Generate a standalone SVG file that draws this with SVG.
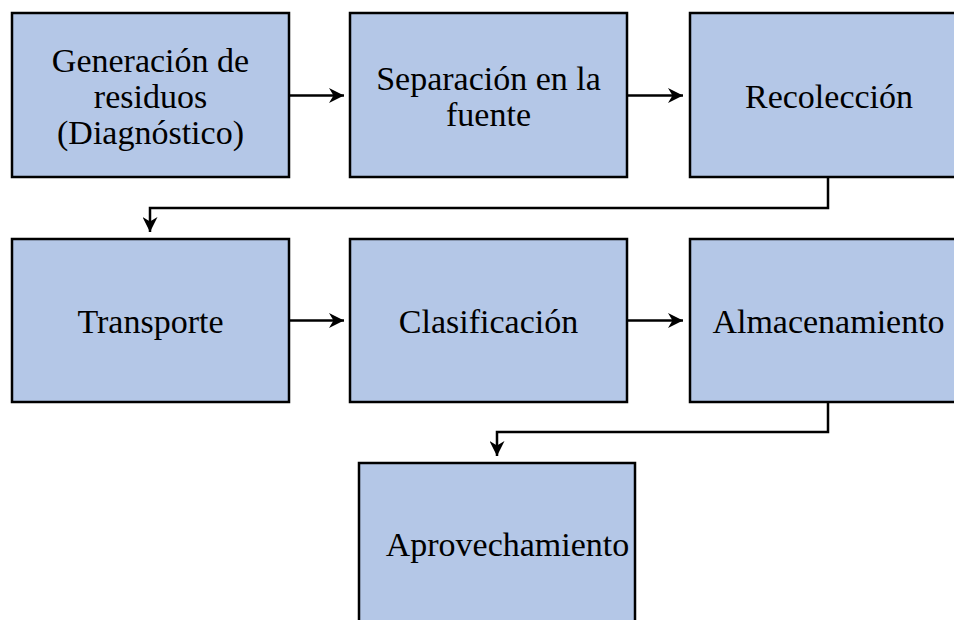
<svg xmlns="http://www.w3.org/2000/svg" width="954" height="620" viewBox="0 0 954 620">
<style>
.box{fill:#B4C7E7;stroke:#000;stroke-width:2.5}
.t{font-family:"Liberation Serif","Times New Roman",serif;font-size:34px;fill:#000;text-anchor:middle}
.c{fill:none;stroke:#000;stroke-width:2.5}
</style>
<defs>
<marker id="ah" viewBox="0 0 10 10" refX="10" refY="5" markerWidth="6" markerHeight="6" orient="auto" markerUnits="strokeWidth">
<path d="M0,0 L10,5 L0,10 L3,5 Z" fill="#000"/>
</marker>
</defs>
<rect width="954" height="620" fill="#fff"/>
<g id="n1"><rect class="box" x="12" y="13" width="277" height="164"/><text class="t" x="150.5" y="72">Generación de</text><text class="t" x="150.5" y="108">residuos</text><text class="t" x="150.5" y="144">(Diagnóstico)</text></g>
<g id="n2"><rect class="box" x="350" y="13" width="277" height="164"/><text class="t" x="488.5" y="90">Separación en la</text><text class="t" x="488.5" y="126">fuente</text></g>
<g id="n3"><rect class="box" x="690" y="13" width="277" height="164"/><text class="t" x="829" y="108">Recolección</text></g>
<g id="n4"><rect class="box" x="12" y="239" width="277" height="163"/><text class="t" x="150.5" y="333">Transporte</text></g>
<g id="n5"><rect class="box" x="350" y="239" width="277" height="163"/><text class="t" x="488.5" y="333">Clasificación</text></g>
<g id="n6"><rect class="box" x="690" y="239" width="277" height="163"/><text class="t" x="828.5" y="333">Almacenamiento</text></g>
<g id="n7"><rect class="box" x="359" y="463" width="276" height="170"/><text class="t" x="507.5" y="556">Aprovechamiento</text></g>
<g id="connectors">
<line class="c" x1="289" y1="95.5" x2="344" y2="95.5" marker-end="url(#ah)"/>
<line class="c" x1="627" y1="95.5" x2="683" y2="95.5" marker-end="url(#ah)"/>
<polyline class="c" points="828,177 828,208 150,208 150,232" marker-end="url(#ah)"/>
<line class="c" x1="289" y1="320.5" x2="344" y2="320.5" marker-end="url(#ah)"/>
<line class="c" x1="627" y1="320.5" x2="683" y2="320.5" marker-end="url(#ah)"/>
<polyline class="c" points="828,402 828,432 497,432 497,456" marker-end="url(#ah)"/>
</g>
</svg>
